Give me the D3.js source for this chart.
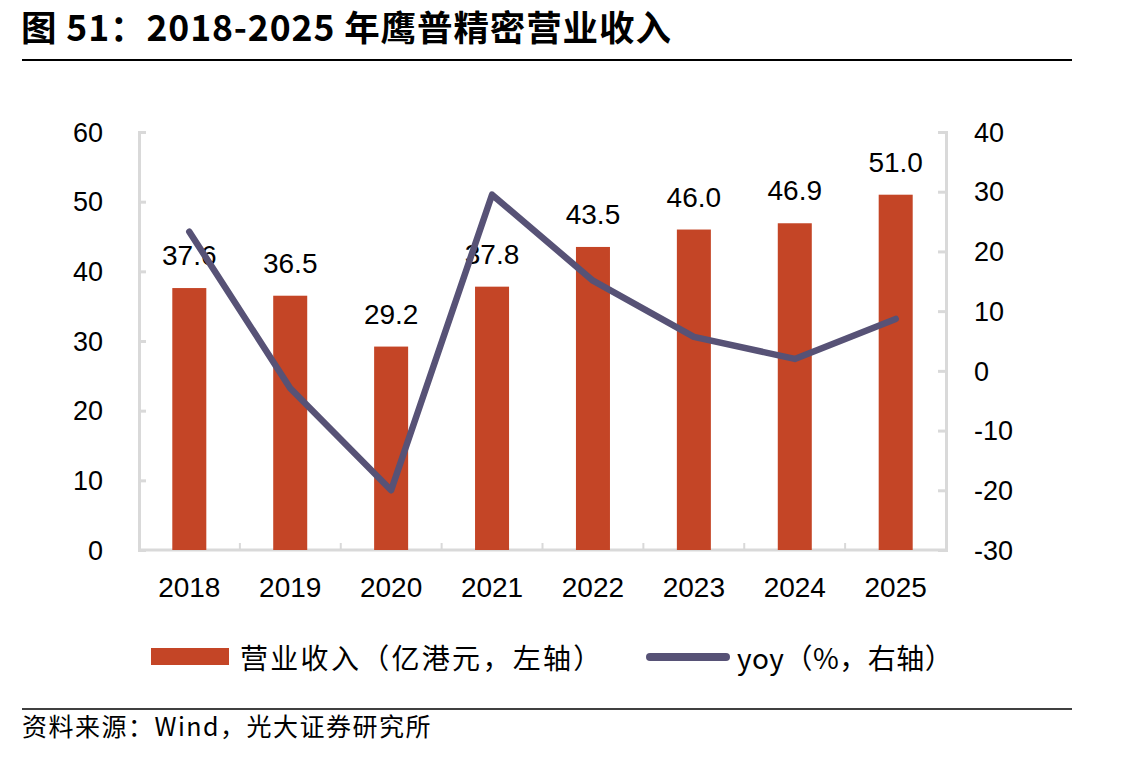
<!DOCTYPE html>
<html lang="zh">
<head>
<meta charset="UTF-8">
<script src="https://d3js.org/d3.v7.min.js"></script>
<title>鹰普精密营业收入</title>
<style>
  body { margin: 0; background: #fff; }
  svg text { font-family: "Liberation Sans", Arial, sans-serif; }
  .cjk { font-family: "Noto Sans CJK SC", sans-serif; }
</style>
</head>
<body>
<div id="chart"></div>
<script>
const years = ["2018", "2019", "2020", "2021", "2022", "2023", "2024", "2025"];
const revenue = [37.6, 36.5, 29.2, 37.8, 43.5, 46.0, 46.9, 51.0];
const yoy = [23.3, -2.9, -20.0, 29.5, 15.1, 5.7, 2.0, 8.7];
const leftTicks = [0, 10, 20, 30, 40, 50, 60];
const rightTicks = [-30, -20, -10, 0, 10, 20, 30, 40];

const width = 1143, height = 757;
const m = { left: 139, right: 946, top: 132, bottom: 550 };

const svg = d3.select("#chart").append("svg")
  .attr("width", width)
  .attr("height", height);

// 标题
svg.append("text").attr("class", "cjk")
  .attr("x", 21).attr("y", 41)
  .attr("font-size", 35.5).attr("font-weight", "bold").attr("letter-spacing", 0.9)
  .text("图 51：2018-2025 年鹰普精密营业收入");
svg.append("line").attr("x1", 22).attr("x2", 1072).attr("y1", 60).attr("y2", 60)
  .attr("stroke", "#000").attr("stroke-width", 2);

const x = d3.scaleBand().domain(years).range([m.left, m.right]).paddingInner(0.663).paddingOuter(0.33);
const yL = d3.scaleLinear().domain([0, 60]).range([m.bottom, m.top]);
const yR = d3.scaleLinear().domain([-30, 40]).range([m.bottom, m.top]);
const band = d3.scaleBand().domain(years).range([m.left, m.right]);

const axisColor = "#d9d9d9";

// 左轴
const gL = svg.append("g").attr("transform", `translate(${m.left},0)`)
  .call(d3.axisRight(yL).tickValues(leftTicks).tickSize(7).tickFormat(""));
gL.selectAll("path, line").attr("stroke", axisColor).attr("stroke-width", 3);
svg.selectAll(".lt").data(leftTicks).enter().append("text")
  .attr("x", 103).attr("y", d => yL(d)).attr("dy", "0.36em")
  .attr("text-anchor", "end").attr("font-size", 27).text(d => d);

// 右轴
const gR = svg.append("g").attr("transform", `translate(${m.right},0)`)
  .call(d3.axisLeft(yR).tickValues(rightTicks).tickSize(8).tickFormat(""));
gR.selectAll("path, line").attr("stroke", axisColor).attr("stroke-width", 3);
svg.selectAll(".rt").data(rightTicks).enter().append("text")
  .attr("x", 974).attr("y", d => yR(d)).attr("dy", "0.36em")
  .attr("text-anchor", "start").attr("font-size", 27).text(d => d);

// X轴
svg.append("line").attr("x1", m.left).attr("x2", m.right)
  .attr("y1", m.bottom).attr("y2", m.bottom)
  .attr("stroke", axisColor).attr("stroke-width", 3);
svg.selectAll(".xt").data(years.slice(1)).enter().append("line")
  .attr("x1", d => band(d)).attr("x2", d => band(d))
  .attr("y1", m.bottom).attr("y2", m.bottom - 7)
  .attr("stroke", axisColor).attr("stroke-width", 2);
svg.selectAll(".xl").data(years).enter().append("text")
  .attr("x", d => x(d) + x.bandwidth() / 2).attr("y", 597)
  .attr("text-anchor", "middle").attr("font-size", 28).text(d => d);

// 柱
svg.selectAll(".bar").data(revenue).enter().append("rect")
  .attr("x", (d, i) => x(years[i]))
  .attr("y", d => yL(d))
  .attr("width", x.bandwidth())
  .attr("height", d => yL(0) - yL(d))
  .attr("fill", "#c44526");
svg.selectAll(".bl").data(revenue).enter().append("text")
  .attr("x", (d, i) => x(years[i]) + x.bandwidth() / 2)
  .attr("y", d => yL(d) - 23)
  .attr("text-anchor", "middle").attr("font-size", 28)
  .text(d => d.toFixed(1));

// 折线
const line = d3.line()
  .x((d, i) => x(years[i]) + x.bandwidth() / 2)
  .y(d => yR(d));
svg.append("path").datum(yoy)
  .attr("d", line)
  .attr("fill", "none")
  .attr("stroke", "#575276")
  .attr("stroke-width", 6.5)
  .attr("stroke-linejoin", "round")
  .attr("stroke-linecap", "round");

// 图例
svg.append("rect").attr("x", 151).attr("y", 648).attr("width", 78).attr("height", 17).attr("fill", "#c44526");
svg.append("text").attr("class", "cjk").attr("x", 240).attr("y", 669)
  .attr("font-size", 28).attr("letter-spacing", 2.3).text("营业收入（亿港元，左轴）");
svg.append("line").attr("x1", 650).attr("x2", 726).attr("y1", 657).attr("y2", 657)
  .attr("stroke", "#575276").attr("stroke-width", 8).attr("stroke-linecap", "round");
svg.append("text").attr("class", "cjk").attr("x", 737).attr("y", 669)
  .attr("font-size", 28).attr("letter-spacing", 0.5).text("yoy（%，右轴）");

// 来源
svg.append("line").attr("x1", 22).attr("x2", 1072).attr("y1", 709).attr("y2", 709)
  .attr("stroke", "#000").attr("stroke-width", 1.5);
svg.append("text").attr("class", "cjk").attr("x", 22).attr("y", 736)
  .attr("font-size", 25).attr("letter-spacing", 1.5).text("资料来源：Wind，光大证券研究所");
</script>
</body>
</html>
